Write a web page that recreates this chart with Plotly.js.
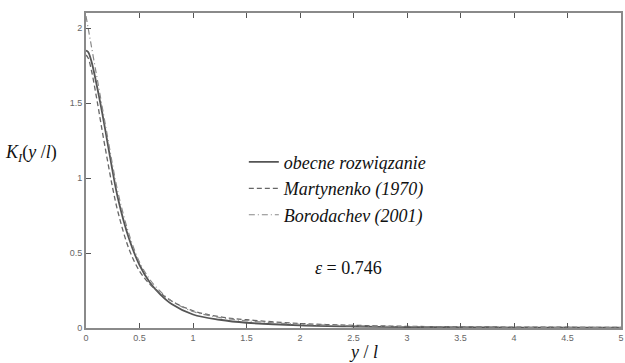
<!DOCTYPE html>
<html><head><meta charset="utf-8">
<script src="https://cdn.plot.ly/plotly-3.0.1.min.js"></script>
<style>html,body{margin:0;padding:0;background:#fff}#c{width:625px;height:363px}</style>
</head><body><div id="c"></div>
<script>
const xs = [0, 0.02, 0.05, 0.1, 0.15, 0.2, 0.25, 0.3, 0.4, 0.5, 0.6, 0.7, 0.8, 1.0, 1.25, 1.5, 2, 2.5, 3, 3.5, 4, 4.5, 5];
const solidY = [1.85, 1.84, 1.78, 1.62, 1.44, 1.24, 1.04, 0.86, 0.60, 0.42, 0.30, 0.22, 0.16, 0.09, 0.055, 0.035, 0.018, 0.010, 0.006, 0.004, 0.003, 0.0025, 0.002];
const martY = [1.82, 1.80, 1.72, 1.53, 1.32, 1.12, 0.93, 0.77, 0.53, 0.38, 0.29, 0.23, 0.18, 0.115, 0.075, 0.055, 0.030, 0.018, 0.011, 0.008, 0.006, 0.005, 0.004];
const boroY = [2.08, 2.00, 1.88, 1.68, 1.48, 1.28, 1.08, 0.90, 0.63, 0.44, 0.32, 0.24, 0.18, 0.11, 0.07, 0.048, 0.025, 0.015, 0.009, 0.006, 0.005, 0.004, 0.003];
const names = ['obecne rozwiązanie', 'Martynenko (1970)', 'Borodachev (2001)'];

const SERIF = 'Liberation Serif, DejaVu Serif';
const traces = [
  {x: xs, y: solidY, name: names[0], mode: 'lines', line: {color: '#555555', width: 1.8, shape: 'spline'}},
  {x: xs, y: martY, name: names[1], mode: 'lines', line: {color: '#666666', width: 1.3, dash: '5px,3px', shape: 'spline'}},
  {x: xs, y: boroY, name: names[2], mode: 'lines', line: {color: '#888888', width: 1.2, dash: '6px,3px,1px,3px', shape: 'spline'}}
];
const axisCommon = {
  showgrid: false, zeroline: false, showline: true, linecolor: '#8a8a8a', linewidth: 2,
  ticks: 'inside', ticklen: 5, tickcolor: '#555', tickwidth: 1,
  tickfont: {family: 'Liberation Sans, Arial, sans-serif', size: 9, color: '#666'}
};
const layout = {
  width: 625, height: 363,
  margin: {l: 86, r: 4, t: 13, b: 35},
  paper_bgcolor: '#fff', plot_bgcolor: '#fff',
  xaxis: Object.assign({}, axisCommon, {range: [0, 5], dtick: 0.5, mirror: 'ticks'}),
  yaxis: Object.assign({}, axisCommon, {range: [0, 2.1], dtick: 0.5, mirror: true}),
  showlegend: true,
  legend: {x: 0.295, y: 0.585, xanchor: 'left', yanchor: 'top', bgcolor: 'rgba(0,0,0,0)',
    font: {family: SERIF, size: 18, style: 'italic', color: '#111'},
    tracegroupgap: 0},
  annotations: [
    {xref: 'paper', yref: 'paper', x: 0.49, y: 0.19, xanchor: 'center', yanchor: 'middle', showarrow: false,
     text: '<i>ε</i> = 0.746', font: {family: SERIF, size: 18, color: '#111'}},
    {xref: 'paper', yref: 'paper', x: -0.155, y: 0.555, xanchor: 'left', yanchor: 'middle', showarrow: false,
     text: '<i>K<sub>I</sub></i>(<i>y</i> /<i>l</i>)', font: {family: SERIF, size: 18, color: '#111'}},
    {xref: 'paper', yref: 'paper', x: 0.518, y: -0.075, xanchor: 'center', yanchor: 'middle', showarrow: false,
     text: '<i>y</i> / <i>l</i>', font: {family: SERIF, size: 18, color: '#111'}}
  ]
};
Plotly.newPlot('c', traces, layout, {staticPlot: true, displayModeBar: false});
</script></body></html>
